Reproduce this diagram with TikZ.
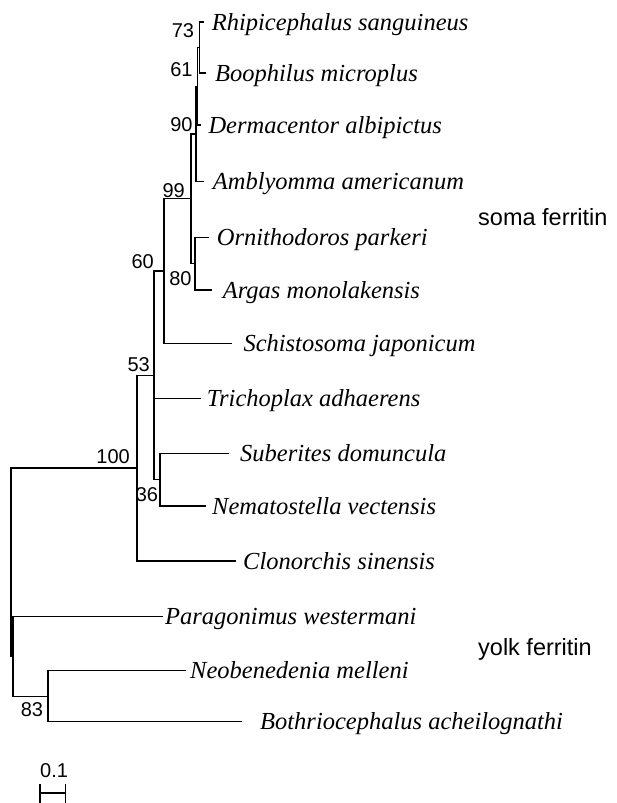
\documentclass[tikz,border=0pt]{standalone}
\usepackage{fontspec}
\setmainfont{Liberation Serif}
\newfontfamily\labfont{Liberation Sans}
\begin{document}
\begin{tikzpicture}[x=1pt,y=-1pt,
  br/.style={line width=1.2pt,line cap=rect},
  sp/.style={anchor=base west,inner sep=0pt,font=\fontsize{24.5}{28}\selectfont\itshape},
  bs/.style={anchor=base east,inner sep=0pt,font=\labfont\fontsize{20}{24}\selectfont},
  grp/.style={anchor=base west,inner sep=0pt,font=\labfont\fontsize{23.5}{28}\selectfont}]
\useasboundingbox (0,0) rectangle (617,803);
% leaf tips
\coordinate (l1) at (203.3,22);
\coordinate (l2) at (205,73);
\coordinate (l3) at (200,125);
\coordinate (l4) at (203.3,181.7);
\coordinate (l5) at (208.3,237.3);
\coordinate (l6) at (211.7,290);
\coordinate (l7) at (231.7,343.3);
\coordinate (l8) at (200,398.7);
\coordinate (l9) at (228.3,453.3);
\coordinate (l10) at (205,506);
\coordinate (l11) at (235,561);
\coordinate (l12) at (162,616.7);
\coordinate (l13) at (185,670.7);
\coordinate (l14) at (241.7,721.7);
% internal nodes
\coordinate (n73) at (199.5,47.5);
\coordinate (n61) at (197.5,86.2);
\coordinate (n90) at (196,134);
\coordinate (n80) at (195,263.7);
\coordinate (n99) at (191,198.8);
\coordinate (n60) at (164,271);
\coordinate (n36) at (160,479.7);
\coordinate (n53) at (154,375.3);
\coordinate (n100) at (137,468);
\coordinate (n83) at (48,696.2);
\coordinate (nP) at (13,656.5);
\coordinate (root) at (11,562.3);
% branches
\draw[br] (n73) |- (l1);
\draw[br] (n73) |- (l2);
\draw[br] (n61) |- (n73);
\draw[br] (n61) |- (l3);
\draw[br] (n90) |- (n61);
\draw[br] (n90) |- (l4);
\draw[br] (n80) |- (l5);
\draw[br] (n80) |- (l6);
\draw[br] (n99) |- (n90);
\draw[br] (n99) |- (n80);
\draw[br] (n60) |- (n99);
\draw[br] (n60) |- (l7);
\draw[br] (n36) |- (l9);
\draw[br] (n36) |- (l10);
\draw[br] (n53) |- (n60);
\draw[br] (n53) |- (l8);
\draw[br] (n53) |- (n36);
\draw[br] (n100) |- (n53);
\draw[br] (n100) |- (l11);
\draw[br] (n83) |- (l13);
\draw[br] (n83) |- (l14);
\draw[br] (nP) |- (l12);
\draw[br] (nP) |- (n83);
\draw[br] (root) |- (n100);
\draw[br] (root) |- (nP);
% species names
\node[sp] (t1) at (211.7,30) {Rhipicephalus sanguineus};
\node[sp] (t2) at (215,81) {Boophilus microplus};
\node[sp] (t3) at (208.3,133) {Dermacentor albipictus};
\node[sp] (t4) at (212.7,189.7) {Amblyomma americanum};
\node[sp] (t5) at (216.7,245.3) {Ornithodoros parkeri};
\node[sp] (t6) at (222.7,298) {Argas monolakensis};
\node[sp] (t7) at (243.3,351.3) {Schistosoma japonicum};
\node[sp] (t8) at (206.7,406.7) {Trichoplax adhaerens};
\node[sp] (t9) at (240,461.3) {Suberites domuncula};
\node[sp] (t10) at (212,514) {Nematostella vectensis};
\node[sp] (t11) at (243,569) {Clonorchis sinensis};
\node[sp] (t12) at (165,624.7) {Paragonimus westermani};
\node[sp] (t13) at (190,678.7) {Neobenedenia melleni};
\node[sp] (t14) at (260,729.7) {Bothriocephalus acheilognathi};
% bootstrap values
\node[bs] (b73) at (194.3,37.3) {73};
\node[bs] (b61) at (192.7,76) {61};
\node[bs] (b90) at (192.7,131) {90};
\node[bs] (b99) at (185,197.3) {99};
\node[bs] (b60) at (154,268.5) {60};
\node[bs] (b80) at (191.7,285) {80};
\node[bs] (b53) at (150,371) {53};
\node[bs] (b100) at (130,463.3) {100};
\node[bs] (b36) at (158.3,501.5) {36};
\node[bs] (b83) at (43.3,716.5) {83};
% group labels
\node[grp] (gs) at (478,225) {soma ferritin};
\node[grp] (gy) at (478,655) {yolk ferritin};
% scale bar
\coordinate (sb1) at (40,793);
\coordinate (sb2) at (65.7,793);
\draw[line width=1.2pt] (sb1) -- (sb2);
\draw[line width=1.2pt] ([yshift=-9.5pt]sb1) -- ([yshift=9.5pt]sb1);
\draw[line width=1.2pt] ([yshift=-9.5pt]sb2) -- ([yshift=9.5pt]sb2);
\node[bs,anchor=base west] (sbl) at (40,777) {0.1};
\end{tikzpicture}
\end{document}
